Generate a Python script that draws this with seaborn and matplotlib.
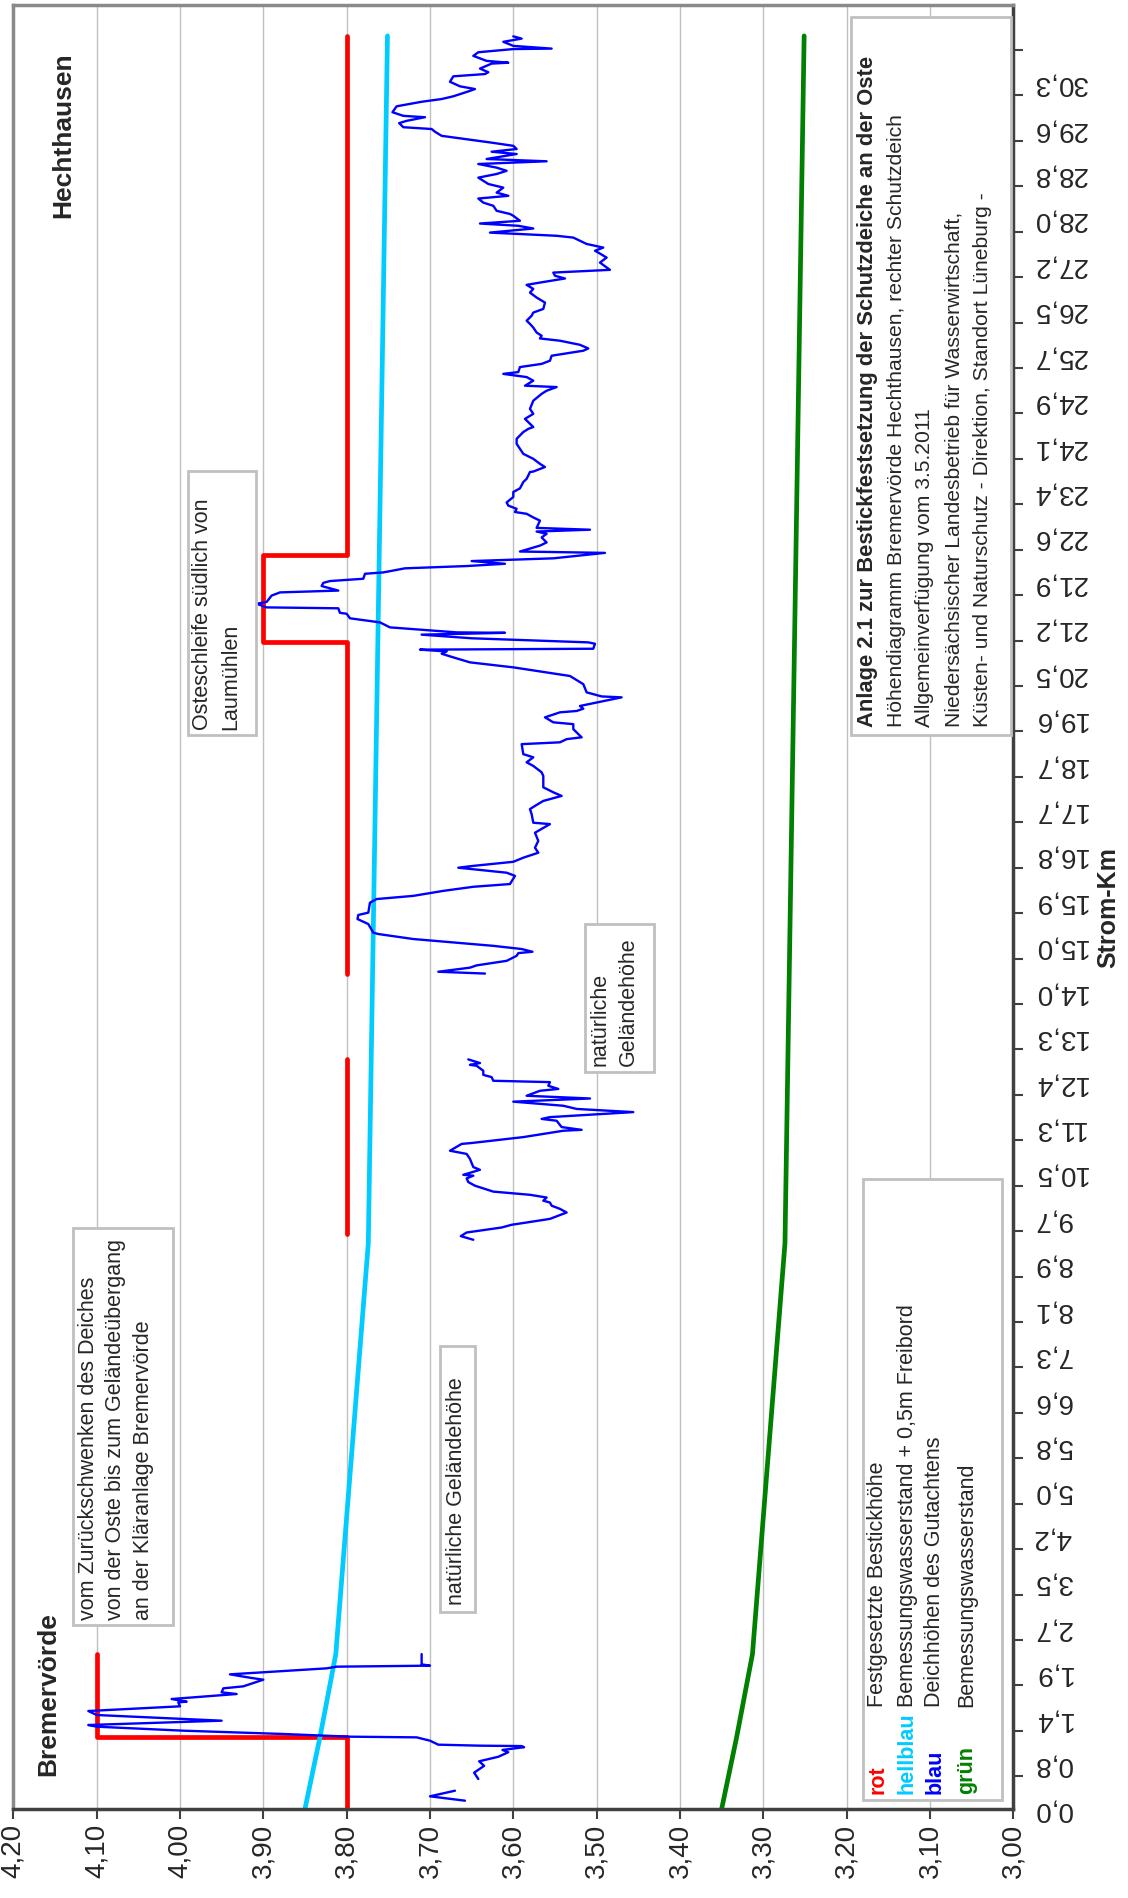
import matplotlib
matplotlib.use("Agg")
import matplotlib.pyplot as plt
from matplotlib.patches import Rectangle
from matplotlib.ticker import FixedLocator
import numpy as np
import seaborn as sns

W, H = 1128, 1899

# Strom-Km category labels (evenly spaced on the axis)
km_labels = ["0,0", "0,8", "1,4", "1,9", "2,7", "3,5", "4,2", "5,0", "5,8", "6,6",
             "7,3", "8,1", "8,9", "9,7", "10,5", "11,3", "12,4", "13,3", "14,0", "15,0",
             "15,9", "16,8", "17,7", "18,7", "19,6", "20,5", "21,2", "21,9", "22,6", "23,4",
             "24,1", "24,9", "25,7", "26,5", "27,2", "28,0", "28,8", "29,6", "30,3"]
elev_ticks = [4.20, 4.10, 4.00, 3.90, 3.80, 3.70, 3.60, 3.50, 3.40, 3.30, 3.20, 3.10, 3.00]

# positions are in label-index units along the Strom-Km axis
# rot: Festgesetzte Bestickhoehe (nan = gap)
red_pos = [0.0, 1.58, 1.58, 3.41, np.nan,
           12.65, 16.50, np.nan,
           18.38, 25.69, 25.69, 27.60, 27.60, 39.03]
red_val = [3.80, 3.80, 4.10, 4.10, np.nan,
           3.80, 3.80, np.nan,
           3.80, 3.80, 3.90, 3.90, 3.80, 3.80]

# gruen: Bemessungswasserstand, hellblau = gruen + 0,5 m Freibord
green_pos = [0.0, 1.58, 3.41, 12.45, 39.03]
green_val = [3.350, 3.332, 3.313, 3.274, 3.251]
freibord = 0.5

# blau: Deichhoehen des Gutachtens, (pos, value)
blue_hook = [(0.183, 3.658), (0.279, 3.700), (0.403, 3.670)]
blue_start = [(0.66, 3.642), (0.80, 3.647), (0.95, 3.635), (1.05, 3.641), (1.15, 3.618),
              (1.25, 3.606), (1.30, 3.613), (1.36, 3.587), (1.385, 3.590), (1.394, 3.640),
              (1.416, 3.690), (1.504, 3.700), (1.577, 3.716), (1.592, 3.796), (1.651, 3.876),
              (1.724, 3.996), (1.812, 4.100), (1.849, 4.110), (1.944, 3.950), (2.069, 4.100),
              (2.157, 4.110), (2.260, 4.000), (2.348, 4.002), (2.362, 3.992), (2.421, 4.010),
              (2.531, 3.932), (2.568, 3.950), (2.656, 3.948), (2.700, 3.924), (2.846, 3.900),
              (2.890, 3.916), (2.964, 3.940), (3.096, 3.824), (3.133, 3.812), (3.155, 3.700),
              (3.184, 3.710), (3.41, 3.710)]
blue_middle = [(12.53, 3.648), (12.61, 3.663), (12.69, 3.656), (12.80, 3.614), (12.86, 3.602),
               (12.91, 3.584), (12.99, 3.556), (13.06, 3.546), (13.13, 3.536), (13.21, 3.544),
               (13.28, 3.554), (13.35, 3.556), (13.39, 3.564), (13.46, 3.560), (13.52, 3.580),
               (13.59, 3.624), (13.72, 3.646), (13.80, 3.654), (13.88, 3.656), (13.94, 3.648),
               (13.96, 3.660), (14.07, 3.640), (14.13, 3.648), (14.31, 3.652), (14.42, 3.656),
               (14.49, 3.676), (14.64, 3.662), (14.66, 3.650), (14.79, 3.588), (14.93, 3.540),
               (14.95, 3.518), (15.01, 3.542), (15.15, 3.548), (15.19, 3.566), (15.23, 3.556),
               (15.34, 3.456), (15.41, 3.524), (15.48, 3.540), (15.57, 3.600), (15.64, 3.508),
               (15.70, 3.584), (15.81, 3.568), (15.85, 3.546), (15.92, 3.558), (16.00, 3.556),
               (16.03, 3.624), (16.11, 3.626), (16.16, 3.636), (16.25, 3.636), (16.36, 3.644),
               (16.38, 3.652), (16.42, 3.640), (16.50, 3.654)]
blue_upper = [(18.39, 3.634), (18.43, 3.690), (18.52, 3.652), (18.57, 3.644), (18.67, 3.608),
              (18.78, 3.596), (18.84, 3.594), (18.87, 3.577), (18.93, 3.590), (19.00, 3.624),
              (19.15, 3.720), (19.26, 3.762), (19.29, 3.768), (19.48, 3.774), (19.59, 3.787),
              (19.68, 3.786), (19.73, 3.774), (19.95, 3.772), (20.03, 3.764), (20.10, 3.720),
              (20.21, 3.684), (20.30, 3.648), (20.36, 3.604), (20.54, 3.598), (20.61, 3.608),
              (20.72, 3.666), (20.76, 3.648), (20.85, 3.600), (20.94, 3.588), (21.05, 3.570),
              (21.16, 3.574), (21.31, 3.570), (21.49, 3.574), (21.68, 3.556), (21.71, 3.576),
              (21.90, 3.578), (22.01, 3.580), (22.08, 3.574), (22.19, 3.564), (22.30, 3.542),
              (22.38, 3.552), (22.49, 3.564), (22.74, 3.564), (22.82, 3.566), (22.96, 3.576),
              (23.04, 3.584), (23.15, 3.576), (23.22, 3.588), (23.44, 3.590), (23.48, 3.544),
              (23.55, 3.536), (23.59, 3.518), (23.77, 3.528), (23.88, 3.528), (23.92, 3.552),
              (24.03, 3.562), (24.14, 3.544), (24.17, 3.524), (24.22, 3.516), (24.28, 3.520),
              (24.47, 3.470), (24.49, 3.494), (24.58, 3.512), (24.76, 3.516), (24.94, 3.532),
              (25.03, 3.564), (25.13, 3.600), (25.24, 3.652), (25.35, 3.672), (25.43, 3.686),
              (25.48, 3.680), (25.52, 3.712), (25.54, 3.504), (25.65, 3.502), (25.68, 3.510),
              (25.77, 3.650), (25.85, 3.710), (25.89, 3.610), (25.90, 3.668), (26.01, 3.748),
              (26.12, 3.760), (26.21, 3.796), (26.31, 3.800), (26.33, 3.808), (26.43, 3.810),
              (26.45, 3.896), (26.53, 3.908), (26.57, 3.896), (26.71, 3.890), (26.78, 3.880),
              (26.82, 3.810), (26.92, 3.830), (26.99, 3.828), (27.03, 3.820), (27.08, 3.780),
              (27.19, 3.778), (27.22, 3.756), (27.31, 3.730), (27.36, 3.656), (27.41, 3.610),
              (27.47, 3.650), (27.53, 3.552), (27.65, 3.490), (27.68, 3.592), (27.81, 3.568),
              (27.88, 3.560), (27.99, 3.566), (28.07, 3.560), (28.12, 3.572), (28.16, 3.508),
              (28.20, 3.572), (28.36, 3.568), (28.43, 3.576), (28.51, 3.584), (28.55, 3.598),
              (28.62, 3.596), (28.69, 3.606), (28.76, 3.608), (28.88, 3.600), (28.99, 3.600),
              (29.07, 3.592), (29.21, 3.588), (29.28, 3.584), (29.43, 3.580), (29.44, 3.576),
              (29.54, 3.562), (29.61, 3.568), (29.72, 3.576), (29.83, 3.588), (29.94, 3.592),
              (30.05, 3.596), (30.16, 3.596), (30.31, 3.588), (30.38, 3.582), (30.42, 3.576),
              (30.60, 3.586), (30.71, 3.576), (30.82, 3.580), (31.00, 3.576), (31.15, 3.566),
              (31.22, 3.560), (31.30, 3.548), (31.33, 3.586), (31.44, 3.576), (31.52, 3.584),
              (31.59, 3.612), (31.63, 3.594), (31.74, 3.592), (31.81, 3.566), (31.88, 3.556),
              (31.99, 3.554), (32.10, 3.516), (32.15, 3.510), (32.23, 3.520), (32.32, 3.544),
              (32.37, 3.568), (32.43, 3.566), (32.50, 3.572), (32.61, 3.576), (32.69, 3.580),
              (32.76, 3.584), (32.87, 3.578), (32.94, 3.576), (33.02, 3.564), (33.16, 3.562),
              (33.27, 3.572), (33.38, 3.580), (33.46, 3.576), (33.55, 3.584), (33.60, 3.568),
              (33.69, 3.538), (33.75, 3.550), (33.82, 3.552), (33.88, 3.484), (34.04, 3.496),
              (34.15, 3.488), (34.26, 3.498), (34.30, 3.502), (34.37, 3.492), (34.45, 3.512),
              (34.59, 3.528), (34.63, 3.548), (34.70, 3.628), (34.79, 3.576), (34.85, 3.594),
              (34.90, 3.640), (34.96, 3.592), (35.07, 3.600), (35.11, 3.604), (35.18, 3.620),
              (35.29, 3.624), (35.36, 3.636), (35.45, 3.642), (35.51, 3.606), (35.58, 3.620),
              (35.69, 3.612), (35.77, 3.630), (35.91, 3.642), (35.99, 3.620), (36.06, 3.608),
              (36.13, 3.620), (36.21, 3.642), (36.27, 3.560), (36.32, 3.632), (36.43, 3.596),
              (36.48, 3.626), (36.54, 3.596), (36.61, 3.600), (36.68, 3.626), (36.83, 3.686),
              (36.92, 3.694), (36.98, 3.698), (37.02, 3.732), (37.11, 3.737), (37.16, 3.728),
              (37.24, 3.706), (37.27, 3.732), (37.35, 3.745), (37.48, 3.740), (37.58, 3.710),
              (37.64, 3.686), (37.70, 3.672), (37.82, 3.652), (37.86, 3.646), (37.92, 3.664),
              (38.02, 3.676), (38.14, 3.672), (38.19, 3.634), (38.23, 3.630), (38.31, 3.640),
              (38.42, 3.626), (38.44, 3.606), (38.48, 3.632), (38.59, 3.648), (38.67, 3.642),
              (38.74, 3.600), (38.75, 3.554), (38.81, 3.600), (38.90, 3.612), (38.97, 3.590),
              (39.02, 3.600)]

legend_rows = [("rot", "#ff0000", "Festgesetzte Bestickhöhe"),
               ("hellblau", "#00ccff", "Bemessungswasserstand + 0,5m Freibord"),
               ("blau", "#0000ff", "Deichhöhen des Gutachtens"),
               ("grün", "#008000", "Bemessungswasserstand")]
info_lines = ["Anlage 2.1 zur Bestickfestsetzung der Schutzdeiche an der Oste",
              "Höhendiagramm Bremervörde Hechthausen, rechter Schutzdeich",
              "Allgemeinverfügung vom 3.5.2011",
              "Niedersächsischer Landesbetrieb für Wasserwirtschaft,",
              "Küsten- und Naturschutz - Direktion, Standort Lüneburg -"]


def split_nan(pos, val):
    pos = np.asarray(pos, float)
    val = np.asarray(val, float)
    parts = []
    start = 0
    for b in list(np.where(np.isnan(pos))[0]) + [len(pos)]:
        if b - start > 1:
            parts.append((pos[start:b], val[start:b]))
        start = b + 1
    return parts


def fx(x):
    return x / W


def fy(y):
    return 1 - y / H


def vtext(x, y, s, size, **kw):
    # text reading bottom-to-top, starting at pixel (x, y)
    fig.text(fx(x), fy(y), s, rotation=90, rotation_mode="anchor",
             ha="left", va="center", fontsize=size, zorder=5, **kw)


def box(x0, y0, x1, y1):
    fig.add_artist(Rectangle((fx(x0), fy(y1)), fx(x1 - x0), (y1 - y0) / H,
                             transform=fig.transFigure, facecolor="white",
                             edgecolor="#c0c0c0", linewidth=2, zorder=4))


sns.set_style("white")
plt.rcParams["font.family"] = ["Liberation Sans", "DejaVu Sans"]

fig = plt.figure(figsize=(W / 100, H / 100), dpi=100)
ax = fig.add_axes([fx(13.3), fy(1810), fx(1000), 1804 / H])

# series
for p, v in split_nan(red_pos, red_val):
    sns.lineplot(x=v, y=p, ax=ax, color="#ff0000", linewidth=3.4, sort=False,
                 estimator=None, legend=False, solid_capstyle="round")
sns.lineplot(x=np.array(green_val) + freibord, y=green_pos, ax=ax, color="#00ccff",
             linewidth=3.4, sort=False, estimator=None, legend=False, solid_capstyle="round")
for seg in [blue_hook, blue_start, blue_middle, blue_upper]:
    p, v = np.array(seg).T
    sns.lineplot(x=v, y=p, ax=ax, color="#0000ff", linewidth=1.7, sort=False,
                 estimator=None, legend=False)
sns.lineplot(x=green_val, y=green_pos, ax=ax, color="#008000", linewidth=3.4, sort=False,
             estimator=None, legend=False, solid_capstyle="round")

# value axis (bottom, reversed)
ax.set_xlim(4.20, 3.00)
ax.set_xticks(elev_ticks)
ax.set_xticklabels([f"{t:.2f}".replace(".", ",") for t in elev_ticks], rotation=90, fontsize=20)
ax.tick_params(axis="x", bottom=True, direction="out", length=7, width=1.5,
               color="#404040", pad=3)
ax.xaxis.grid(True, color="#c0c0c0", linewidth=1)
ax.yaxis.grid(False)

# Strom-Km axis (right)
ax.set_ylim(0, 39.71)
ax.yaxis.tick_right()
ax.set_yticks(range(len(km_labels)))
ax.set_yticklabels(km_labels, rotation=180, fontsize=20, va="center")
ax.tick_params(axis="y", which="major", length=0, pad=14, left=False, right=True)
ax.yaxis.set_minor_locator(FixedLocator(np.arange(len(km_labels)) + 0.72))
ax.tick_params(axis="y", which="minor", length=7, width=1.5, color="#404040",
               direction="out", left=False, right=True)
ax.set_xlabel("")
ax.set_ylabel("")

for side in ["left", "top"]:
    ax.spines[side].set_color("#8a8a8a")
    ax.spines[side].set_linewidth(2.5)
for side in ["bottom", "right"]:
    ax.spines[side].set_color("#404040")
    ax.spines[side].set_linewidth(2.5)

fig.text(fx(1108), fy(908), "Strom-Km", rotation=90, ha="center", va="center",
         fontsize=18, fontweight="bold")

# place names
vtext(48, 1776, "Bremervörde", 19, fontweight="bold")
vtext(63, 218, "Hechthausen", 19, fontweight="bold")

# annotation boxes
box(73, 1229, 173, 1626)
for x, s in zip([89, 116, 143], ["vom Zurückschwenken des Deiches",
                                 "von der Oste bis zum Geländeübergang",
                                 "an der Kläranlage Bremervörde"]):
    vtext(x, 1620, s, 15.5)

box(440, 1347, 475, 1613)
vtext(457, 1605, "natürliche Geländehöhe", 15.5)

box(585, 925, 654, 1073)
for x, s in zip([600, 628], ["natürliche", "Geländehöhe"]):
    vtext(x, 1066, s, 15.5)

box(188, 472, 256, 736)
for x, s in zip([203, 231], ["Osteschleife südlich von", "Laumühlen"]):
    vtext(x, 730, s, 15.5)

# info box
box(851, 18, 1011, 736)
for i, (x, s) in enumerate(zip([867, 897, 925, 954, 983], info_lines)):
    if i == 0:
        vtext(x, 727, s, 15.8, fontweight="bold")
    else:
        vtext(x, 727, s, 15.2)

# legend box
box(863, 1180, 1002, 1801)
for x, (name, col, desc) in zip([878, 907, 935, 967], legend_rows):
    vtext(x, 1794, name, 15.5, color=col, fontweight="bold")
    vtext(x, 1707, desc, 15.5)

fig.savefig("out.png", dpi=100)
